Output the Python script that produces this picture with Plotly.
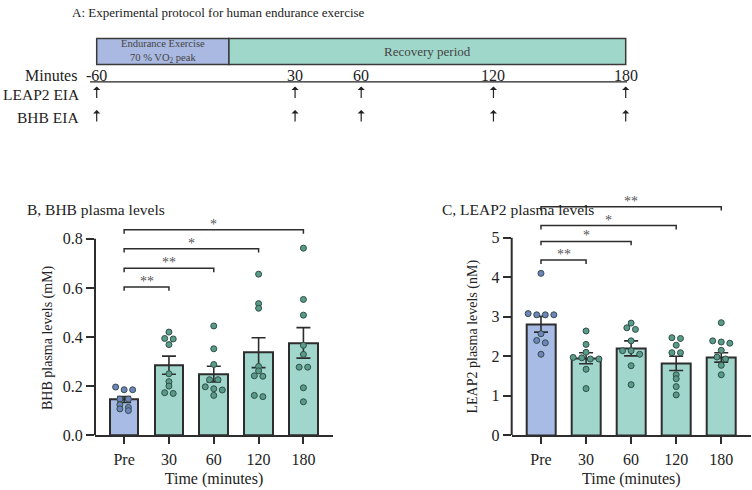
import plotly.graph_objects as go

W, H = 752, 490
FONT = "Liberation Serif, Times New Roman, serif"

# ---------------- data ----------------
categories = ["Pre", "30", "60", "120", "180"]

bhb_mean = [0.145, 0.285, 0.249, 0.336, 0.376]
bhb_sem = [0.012, 0.037, 0.032, 0.061, 0.062]
bhb_pre = [0.196, 0.185, 0.185, 0.147, 0.147, 0.124, 0.113, 0.107, 0.100]
bhb_30 = [0.420, 0.394, 0.392, 0.369, 0.250, 0.218, 0.200, 0.173, 0.170]
bhb_60 = [0.445, 0.352, 0.288, 0.226, 0.226, 0.197, 0.189, 0.184, 0.162]
bhb_120 = [0.656, 0.536, 0.517, 0.280, 0.262, 0.242, 0.240, 0.162, 0.157]
bhb_180 = [0.762, 0.553, 0.489, 0.366, 0.329, 0.277, 0.277, 0.193, 0.136]

leap2_mean = [2.81, 1.95, 2.20, 1.82, 1.97]
leap2_sem = [0.20, 0.14, 0.19, 0.18, 0.12]
leap2_pre = [4.10, 3.08, 3.05, 3.05, 3.05, 2.57, 2.40, 2.34, 2.05]
leap2_30 = [2.64, 2.30, 2.10, 1.97, 1.96, 1.93, 1.93, 1.67, 1.18]
leap2_60 = [2.84, 2.72, 2.68, 2.39, 2.14, 2.14, 2.05, 1.76, 1.28]
leap2_120 = [2.47, 2.45, 2.28, 2.09, 2.09, 1.53, 1.43, 1.23, 1.02]
leap2_180 = [2.85, 2.39, 2.36, 2.33, 2.15, 1.98, 1.93, 1.77, 1.53]

sig_targets = ["30", "60", "120", "180"]
bhb_sig = ["**", "**", "*", "*"]
bhb_bracket_levels = [0.604, 0.680, 0.760, 0.837]
leap2_sig = ["**", "*", "*", "**"]
leap2_bracket_levels = [4.44, 4.91, 5.31, 5.79]

bhb_ticks = [0.0, 0.2, 0.4, 0.6, 0.8]
leap2_ticks = [0, 1, 2, 3, 4, 5]

time_points = [-60, 30, 60, 120, 180]
exercise_span = [-60, 0]
recovery_span = [0, 180]
sample_rows = ["LEAP2 EIA", "BHB EIA"]

# ---------------- style ----------------
PRE_FILL = "#a8bbe4"
TEAL_FILL = "#a0d6cb"
PRE_DOT = "#7083bd"
TEAL_DOT = "#5a9a89"
DOT_LINE = "#2f4f48"
EDGE = "#2d2d2d"


def px(pix):  # window x pixel -> paper fraction
    return pix / W


def py(pix):  # window y pixel -> paper fraction
    return 1 - pix / H


def swarm(vals, thresh, step):
    """Deterministic beeswarm offsets: group near-equal values into rows."""
    order = sorted(range(len(vals)), key=lambda k: -vals[k])
    offs = [0.0] * len(vals)
    groups, cur = [], []
    for k in order:
        if cur and vals[cur[0]] - vals[k] > thresh:
            groups.append(cur)
            cur = []
        cur.append(k)
    if cur:
        groups.append(cur)
    for g in groups:
        n = len(g)
        for j, k in enumerate(g):
            offs[k] = (j - (n - 1) / 2) * step
    return offs


fig = go.Figure()


def add_panel(xa, ya, means, sems, groups, thresh):
    cols = [PRE_FILL] + [TEAL_FILL] * 4
    fig.add_trace(go.Bar(
        x=list(range(len(categories))), y=means, width=0.64,
        marker=dict(color=cols, line=dict(color=EDGE, width=2)),
        error_y=dict(type="data", array=sems, color=EDGE, thickness=1.6, width=7),
        xaxis=xa, yaxis=ya, showlegend=False, hoverinfo="skip"))
    for i, vals in enumerate(groups):
        offs = swarm(vals, thresh, 0.19)
        fig.add_trace(go.Scatter(
            x=[i + o for o in offs], y=vals, mode="markers",
            marker=dict(size=6, color=PRE_DOT if i == 0 else TEAL_DOT,
                        line=dict(color=DOT_LINE, width=1)),
            xaxis=xa, yaxis=ya, showlegend=False, hoverinfo="skip", cliponaxis=False))


add_panel("x", "y", bhb_mean, bhb_sem, [bhb_pre, bhb_30, bhb_60, bhb_120, bhb_180], 0.016)
add_panel("x2", "y2", leap2_mean, leap2_sem,
          [leap2_pre, leap2_30, leap2_60, leap2_120, leap2_180], 0.1)

# invisible trace for the timeline axis
fig.add_trace(go.Scatter(x=time_points, y=[0.5] * len(time_points), mode="markers",
                         marker=dict(opacity=0), xaxis="x3", yaxis="y3",
                         showlegend=False, hoverinfo="skip"))

shapes = []
annotations = []


def text(x, y, s, size, color="#222", xref="paper", yref="paper", xanchor="center", **kw):
    annotations.append(dict(x=x, y=y, xref=xref, yref=yref, text=s, showarrow=False,
                            xanchor=xanchor, yanchor="middle",
                            font=dict(family=FONT, size=size, color=color), **kw))


def brackets(xr, yr, levels, labels, drop):
    for tgt, lev, lab in zip(sig_targets, levels, labels):
        j = categories.index(tgt)
        shapes.append(dict(type="path", xref=xr, yref=yr,
                           path=f"M 0,{lev - drop} L 0,{lev} L {j},{lev} L {j},{lev - drop}",
                           line=dict(color=EDGE, width=1.5)))
        annotations.append(dict(x=j / 2, y=lev, xref=xr, yref=yr, text=lab, showarrow=False,
                                xanchor="center", yanchor="bottom", yshift=-4,
                                font=dict(family=FONT, size=14, color="#555")))


brackets("x", "y", bhb_bracket_levels, bhb_sig, 0.016)
brackets("x2", "y2", leap2_bracket_levels, leap2_sig, 0.10)

# y-axis lines stopping at the top tick
shapes.append(dict(type="line", xref="x domain", yref="y", x0=0, x1=0, y0=0, y1=bhb_ticks[-1],
                   line=dict(color=EDGE, width=2)))
shapes.append(dict(type="line", xref="x2 domain", yref="y2", x0=0, x1=0, y0=0, y1=leap2_ticks[-1],
                   line=dict(color=EDGE, width=2)))

# y-axis titles centred on the drawn axis line
text(px(48), bhb_ticks[-1] / 2, "BHB plasma levels (mM)", 14, yref="y", textangle=-90)
text(px(473), leap2_ticks[-1] / 2, "LEAP2 plasma levels (nM)", 14, yref="y2", textangle=-90)

# ---------------- timeline (panel A) ----------------
shapes.append(dict(type="rect", xref="x3", yref="paper", x0=exercise_span[0], x1=exercise_span[1],
                   y0=py(65.7), y1=py(39.3), fillcolor="#a9b9e1", line=dict(color="#3a3a3a", width=1.5)))
shapes.append(dict(type="rect", xref="x3", yref="paper", x0=recovery_span[0], x1=recovery_span[1],
                   y0=py(65.7), y1=py(39.3), fillcolor="#a0d7cb", line=dict(color="#3a3a3a", width=1.5)))
shapes.append(dict(type="line", xref="x3", yref="paper", x0=time_points[0] - 3, x1=time_points[-1] + 0.6,
                   y0=py(83.5), y1=py(83.5), line=dict(color="#222", width=1.2)))

text(sum(exercise_span) / 2, py(52.5), "Endurance Exercise<br>70 % VO<sub>2</sub> peak", 10.5,
     "#444", xref="x3", borderpad=0)
text(sum(recovery_span) / 2, py(52.5), "Recovery period", 13, "#444", xref="x3")

for t in time_points:
    text(t, py(76.5), f"{t}", 16, xref="x3")
    for row_y in (88.0, 112.0):
        annotations.append(dict(x=t, y=py(row_y), xref="x3", yref="paper", text="",
                                showarrow=True, ax=0, ay=13, arrowhead=1, arrowsize=1,
                                arrowwidth=1.2, arrowcolor="#222"))

text(px(79), py(76.5), "Minutes", 16, xanchor="right")
text(px(82), py(96), sample_rows[0], 15.5, xanchor="right")
text(px(81), py(120), sample_rows[1], 15.5, xanchor="right")

text(px(70), py(12.5), "A: Experimental protocol for human endurance exercise", 13, xanchor="left")
text(px(25), py(213), "B, BHB plasma levels", 15.5, xanchor="left")
text(px(440), py(213), "C, LEAP2 plasma levels", 15.5, xanchor="left")

tickfont = dict(family=FONT, size=16, color="#222")


def xaxis(domain):
    return dict(domain=domain, range=[-0.65, 4.66], tickmode="array",
                tickvals=list(range(len(categories))), ticktext=categories,
                showline=True, linecolor=EDGE, linewidth=2, ticks="outside", ticklen=7,
                tickwidth=1.5, tickcolor=EDGE, tickfont=tickfont, showgrid=False, zeroline=False,
                ticklabelstandoff=2,
                title=dict(text="Time (minutes)", font=tickfont, standoff=5))


def yaxis(domain, rng, ticks, ticktext):
    return dict(domain=domain, range=rng, tickmode="array", tickvals=ticks, ticktext=ticktext,
                showline=False, ticks="outside", ticklen=8, tickwidth=1.5, tickcolor=EDGE,
                tickfont=tickfont, showgrid=False, zeroline=False)


fig.update_layout(
    width=W, height=H, autosize=False,
    margin=dict(l=0, r=0, t=0, b=0),
    paper_bgcolor="white", plot_bgcolor="white",
    bargap=0, showlegend=False,
    xaxis=dict(xaxis([px(95), px(333)]), anchor="y"),
    yaxis=dict(yaxis([py(443.3), py(218.3)], [0, 0.9], bhb_ticks,
                     [f"{v:.1f}" for v in bhb_ticks]), anchor="x"),
    xaxis2=dict(xaxis([px(511.7), px(751)]), anchor="y2"),
    yaxis2=dict(yaxis([py(443.3), py(202.1)], [0, 6.0], leap2_ticks,
                      [str(v) for v in leap2_ticks]), anchor="x2"),
    xaxis3=dict(domain=[px(90), px(640)], range=[-63.04, 186.49], visible=False, anchor="y3"),
    yaxis3=dict(domain=[py(130), py(30)], range=[0, 1], visible=False, anchor="x3"),
    shapes=shapes, annotations=annotations,
)

# remove the default 8px page margin so the figure sits at the window's top-left corner
fig.write_html("out.html", config={"displayModeBar": False},
               post_script="document.body.style.margin='0px';document.body.style.overflow='hidden';")
